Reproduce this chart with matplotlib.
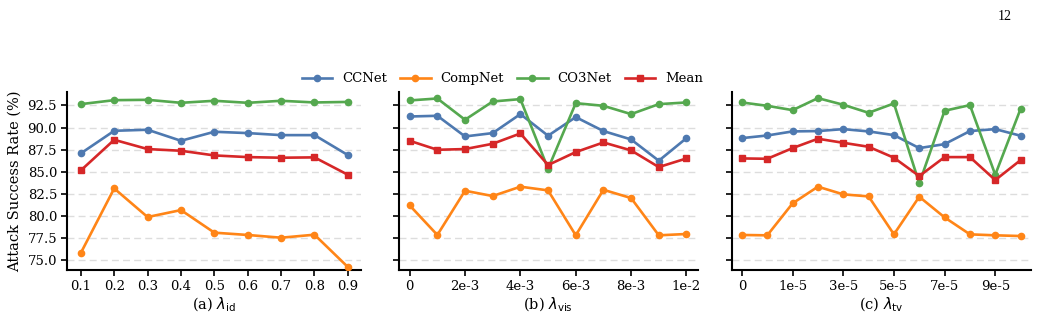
import numpy as np
import matplotlib
matplotlib.use("Agg")
from matplotlib import pyplot as plt

# panel (a): lambda_id
id_labels = ["0.1", "0.2", "0.3", "0.4", "0.5", "0.6", "0.7", "0.8", "0.9"]
id_ccnet = [87.07, 89.63, 89.75, 88.5, 89.52, 89.37, 89.14, 89.14, 86.88]
id_compnet = [75.79, 83.1, 79.86, 80.65, 78.09, 77.83, 77.52, 77.86, 74.2]
id_co3net = [92.65, 93.1, 93.14, 92.8, 93.03, 92.8, 93.03, 92.84, 92.9]
id_mean = [85.14, 88.61, 87.56, 87.37, 86.84, 86.65, 86.58, 86.62, 84.65]

# panel (b): lambda_vis
vis_labels = ["0", "1e-3", "2e-3", "3e-3", "4e-3", "5e-3", "6e-3", "7e-3", "8e-3", "9e-3", "1e-2"]
vis_ccnet = [91.25, 91.33, 88.99, 89.37, 91.52, 89.07, 91.18, 89.6, 88.65, 86.24, 88.8]
vis_compnet = [81.18, 77.83, 82.84, 82.24, 83.3, 82.88, 77.79, 82.95, 82.01, 77.79, 77.94]
vis_co3net = [93.07, 93.29, 90.88, 92.95, 93.22, 85.33, 92.76, 92.46, 91.52, 92.65, 92.84]
vis_mean = [88.5, 87.48, 87.56, 88.16, 89.33, 85.75, 87.22, 88.31, 87.41, 85.52, 86.5]

# panel (c): lambda_tv
tv_labels = ["0", "5e-6", "1e-5", "2e-5", "3e-5", "4e-5", "5e-5", "6e-5", "7e-5", "8e-5", "9e-5", "1e-4"]
tv_ccnet = [88.8, 89.1, 89.56, 89.6, 89.82, 89.56, 89.14, 87.67, 88.12, 89.6, 89.82, 89.07]
tv_compnet = [77.83, 77.79, 81.41, 83.3, 82.43, 82.2, 77.9, 82.16, 79.82, 77.9, 77.79, 77.71]
tv_co3net = [92.84, 92.46, 91.97, 93.33, 92.58, 91.67, 92.73, 83.67, 91.9, 92.54, 84.65, 92.12]
tv_mean = [86.5, 86.46, 87.67, 88.73, 88.27, 87.82, 86.58, 84.5, 86.65, 86.65, 84.05, 86.31]

series_names = ["CCNet", "CompNet", "CO3Net", "Mean"]
colors = ["#4e79b0", "#ff8517", "#55a84f", "#d62728"]
markers = ["o", "o", "o", "s"]

plt.rcParams["font.family"] = ["DejaVu Serif"]
plt.rcParams["mathtext.fontset"] = "dejavusans"

fig = plt.figure(figsize=(10.38, 3.18), dpi=100)
ax_rects = [(0.065, 0.152, 0.283, 0.558),
            (0.384, 0.152, 0.288, 0.558),
            (0.705, 0.152, 0.288, 0.558)]
axes = [fig.add_axes(r) for r in ax_rects]

panels = [
    (id_labels, [id_ccnet, id_compnet, id_co3net, id_mean], 1, r"(a) $\lambda_{\mathrm{id}}$"),
    (vis_labels, [vis_ccnet, vis_compnet, vis_co3net, vis_mean], 2, r"(b) $\lambda_{\mathrm{vis}}$"),
    (tv_labels, [tv_ccnet, tv_compnet, tv_co3net, tv_mean], 2, r"(c) $\lambda_{\mathrm{tv}}$"),
]

yticks = [75.0, 77.5, 80.0, 82.5, 85.0, 87.5, 90.0, 92.5]

for i, (ax, (labels, data, step, xlabel)) in enumerate(zip(axes, panels)):
    x = np.arange(len(labels))
    for vals, name, c, m in zip(data, series_names, colors, markers):
        ax.plot(x, vals, color=c, marker=m, markersize=4.5 if m == "o" else 5,
                linewidth=1.9, label=name, zorder=3)
    ax.set_xticks(x[::step])
    ax.set_xticklabels(labels[::step], fontsize=9.5)
    ax.set_xlim(-0.4, len(labels) - 1 + 0.4)
    ax.set_ylim(73.9, 94.0)
    ax.set_yticks(yticks)
    if i == 0:
        ax.set_yticklabels([f"{v:.1f}" for v in yticks], fontsize=9.5)
        ax.set_ylabel("Attack Success Rate (%)", fontsize=10.5)
    else:
        ax.set_yticklabels([])
    ax.set_xlabel(xlabel, fontsize=10.5, labelpad=2)
    ax.grid(axis="y", linestyle=(0, (5, 3)), color="#dddddd", linewidth=1, zorder=0)
    for s in ["top", "right"]:
        ax.spines[s].set_visible(False)
    for s in ["left", "bottom"]:
        ax.spines[s].set_linewidth(1.5)
    ax.tick_params(axis="both", width=1.2, length=4, color="black")

handles, lbls = axes[0].get_legend_handles_labels()
fig.legend(handles, lbls, loc="center", bbox_to_anchor=(0.484, 0.752), ncol=4,
           frameon=False, fontsize=9.5, handlelength=2.3, handletextpad=0.75,
           columnspacing=1.0)

fig.text(0.975, 0.97, "12", fontsize=10, family="Liberation Serif", ha="right", va="top")

fig.savefig("out.png", dpi=100)
